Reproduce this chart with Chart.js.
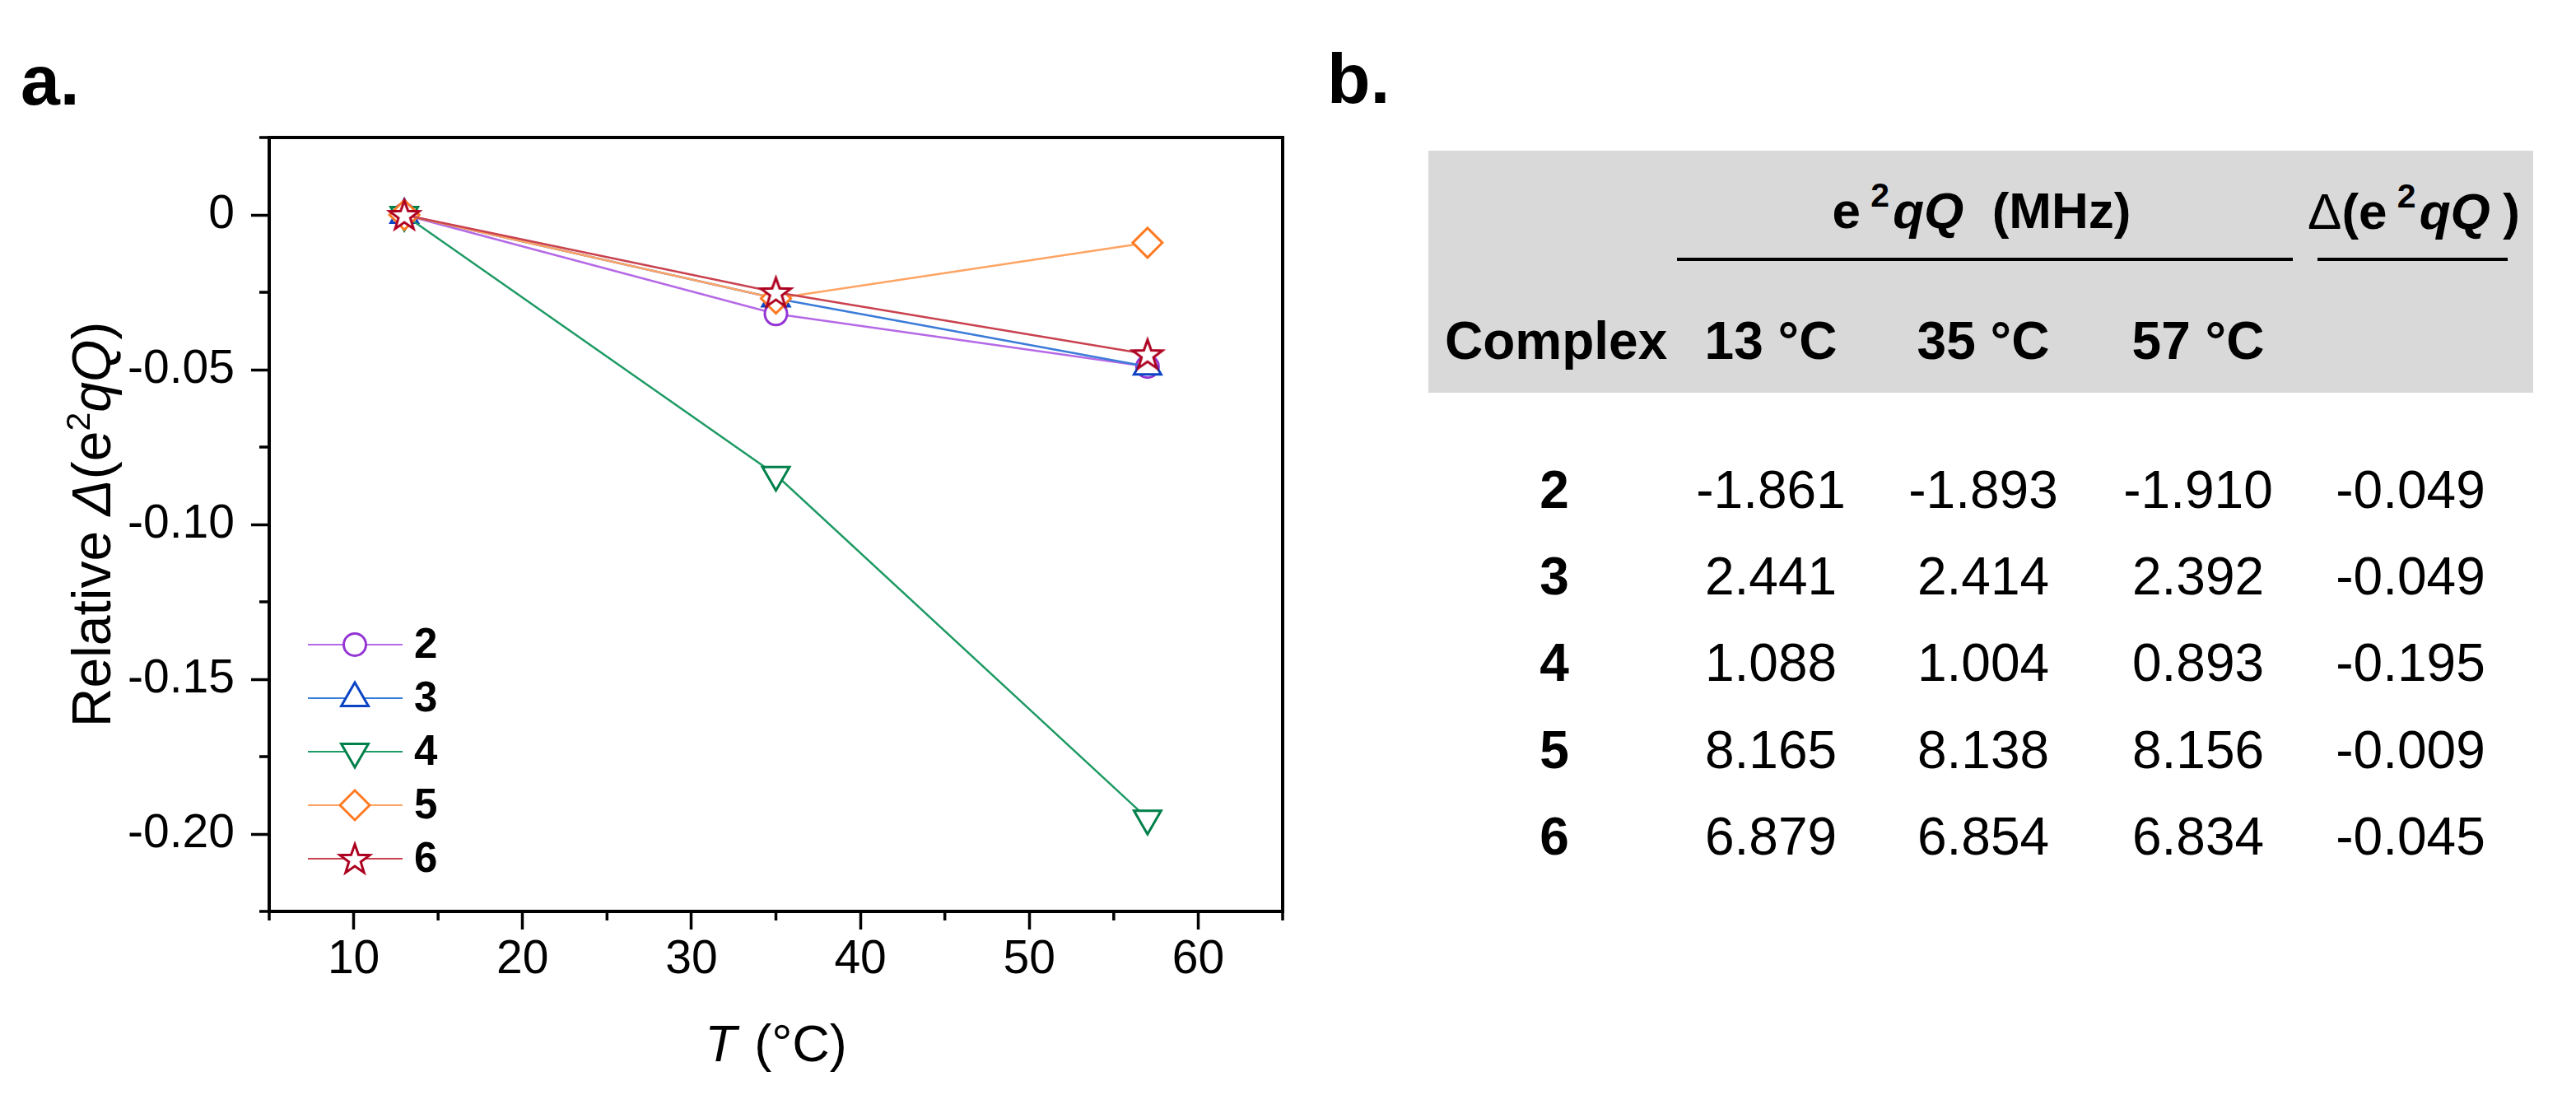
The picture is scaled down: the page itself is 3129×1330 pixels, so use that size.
<!DOCTYPE html>
<html>
<head>
<meta charset="utf-8">
<script src="https://cdn.jsdelivr.net/npm/chart.js@4.4.1/dist/chart.umd.min.js"></script>
<style>
  html, body { margin: 0; padding: 0; background: #fff; }
  body { width: 3129px; height: 1330px; position: relative; overflow: hidden;
         font-family: "Liberation Sans", Arial, sans-serif; color: #000; }
  #plot { position: absolute; left: 0; top: 0; }
  .txt { position: absolute; line-height: 1; white-space: nowrap; }
  .sup { position: relative; font-size: 0.66em; top: -0.62em; }
  .box { position: absolute; background: #d9d9d9; }
  .rule { position: absolute; background: #000; height: 4px; }
</style>
</head>
<body>
<canvas id="plot" width="1600" height="1330"></canvas>
<script>
// panel a data
const temps = [13, 35, 57];
const seriesNames = ['2', '3', '4', '5', '6'];
const rel2 = [0, -0.032, -0.049];
const rel3 = [0, -0.027, -0.049];
const rel4 = [0, -0.084, -0.195];
const rel5 = [0, -0.027, -0.009];
const rel6 = [0, -0.025, -0.045];

const xTicks = [10, 20, 30, 40, 50, 60];
const xMinor = [5, 15, 25, 35, 45, 55, 65];
const yTicks = [0, -0.05, -0.10, -0.15, -0.20];
const yTickLabels = ['0', '-0.05', '-0.10', '-0.15', '-0.20'];
const yMinor = [0.025, -0.025, -0.075, -0.125, -0.175, -0.225];

// panel b data
const complexes = ['2', '3', '4', '5', '6'];
const e2qQ13 = [-1.861, 2.441, 1.088, 8.165, 6.879];
const e2qQ35 = [-1.893, 2.414, 1.004, 8.138, 6.854];
const e2qQ57 = [-1.910, 2.392, 0.893, 8.156, 6.834];
const deltaE2qQ = [-0.049, -0.049, -0.195, -0.009, -0.045];
const tempHeaders = ['13 °C', '35 °C', '57 °C'];

const FONT = '"Liberation Sans", Arial, sans-serif';

function starImage(color){
    var s = 46, c = document.createElement('canvas');
    c.width = s; c.height = s;
    var g = c.getContext('2d');
    var ro = 19, ri = 7.6;
    g.beginPath();
    for (var k = 0; k < 10; k++){
        var r = k % 2 == 0 ? ro : ri;
        var a = -Math.PI/2 + k*Math.PI/5;
        var px = s/2 + r*Math.cos(a), py = s/2 + 1.5 + r*Math.sin(a);
        if (k == 0) g.moveTo(px, py); else g.lineTo(px, py);
    }
    g.closePath();
    g.fillStyle = '#fff';
    g.fill();
    g.lineWidth = 3;
    g.lineJoin = 'miter';
    g.strokeStyle = color;
    g.stroke();
    return c;
}

const styles = [
    {line: '#b569e6', mark: '#9435d4', point: 'circle', radius: 13.5, rot: 0},
    {line: '#3b7bd9', mark: '#0a44c4', point: 'triangle', radius: 19, rot: 0},
    {line: '#1e9a64', mark: '#00804a', point: 'triangle', radius: 19, rot: 180},
    {line: '#ffa463', mark: '#ff7a22', point: 'rectRot', radius: 18, rot: 0},
    {line: '#c9424f', mark: '#ad0020', point: starImage('#ad0020'), radius: 18, rot: 0}
];
const allSeries = [rel2, rel3, rel4, rel5, rel6];

var datasets = [];
allSeries.forEach((vals, i) => {
    var st = styles[i];
    datasets.push({
        label: seriesNames[i],
        data: temps.map((t, j) => ({x: t, y: vals[j]})),
        borderColor: st.line,
        borderWidth: 2.5,
        pointStyle: st.point,
        pointRadius: st.radius,
        pointRotation: st.rot,
        pointBorderColor: st.mark,
        pointBackgroundColor: '#fff',
        pointBorderWidth: 3,
        tension: 0,
        clip: false,
        order: allSeries.length - i
    });
});

function drawRich(ctx, segs, x, y, size){
    var total = 0;
    segs.forEach(s => {
        ctx.font = (s.style || 'normal') + ' ' + (s.sup ? size*0.62 : size) + 'px ' + FONT;
        s.w = ctx.measureText(s.t).width;
        total += s.w + (s.gap || 0);
    });
    var cx = x - total/2;
    segs.forEach(s => {
        ctx.font = (s.style || 'normal') + ' ' + (s.sup ? size*0.62 : size) + 'px ' + FONT;
        ctx.fillText(s.t, cx, s.sup ? y - size*0.38 : y);
        cx += s.w + (s.gap || 0);
    });
}

const framePlugin = {
    id: 'frame',
    afterDraw(chart){
        var ctx = chart.ctx, a = chart.chartArea;
        var xs = chart.scales.x, ys = chart.scales.y;
        ctx.save();
        ctx.strokeStyle = '#000';
        ctx.lineWidth = 4;
        ctx.beginPath();
        ctx.moveTo(a.left - 2, a.top);
        ctx.lineTo(a.right, a.top);
        ctx.lineTo(a.right, a.bottom + 2);
        ctx.stroke();

        // minor ticks
        ctx.lineWidth = 3.5;
        ctx.beginPath();
        xMinor.forEach(v => {
            var px = xs.getPixelForValue(v);
            ctx.moveTo(px, a.bottom);
            ctx.lineTo(px, a.bottom + 11);
        });
        yMinor.forEach(v => {
            var py = ys.getPixelForValue(v);
            ctx.moveTo(a.left - 12, py);
            ctx.lineTo(a.left, py);
        });
        ctx.stroke();

        // axis titles
        ctx.fillStyle = '#000';
        ctx.textBaseline = 'alphabetic';
        ctx.textAlign = 'left';
        drawRich(ctx, [
            {t: 'T', style: 'italic', gap: 4},
            {t: ' (°C)'}
        ], (a.left + a.right)/2, 1289, 63);

        ctx.save();
        ctx.translate(134, (a.top + a.bottom)/2);
        ctx.rotate(-Math.PI/2);
        drawRich(ctx, [
            {t: 'Relative '},
            {t: 'Δ', style: 'italic'},
            {t: '(e'},
            {t: '2', sup: true},
            {t: 'qQ', style: 'italic'},
            {t: ')'}
        ], 0, 0, 66);
        ctx.restore();

        // legend
        var ly0 = 783, lstep = 65;
        chart.data.datasets.forEach((ds, i) => {
            var st = styles[i];
            var ly = ly0 + i*lstep;
            ctx.strokeStyle = st.line;
            ctx.lineWidth = 2;
            ctx.beginPath();
            ctx.moveTo(374, ly);
            ctx.lineTo(489, ly);
            ctx.stroke();
            ctx.fillStyle = '#fff';
            ctx.strokeStyle = st.mark;
            ctx.lineWidth = 3;
            if (Chart.helpers && Chart.helpers.drawPoint){
                Chart.helpers.drawPoint(ctx, {pointStyle: st.point, rotation: st.rot, radius: st.radius, borderWidth: 3}, 431, ly);
            }
            ctx.fillStyle = '#000';
            ctx.font = 'bold 51px ' + FONT;
            ctx.textBaseline = 'middle';
            ctx.fillText(ds.label, 503, ly + 2);
            ctx.textBaseline = 'alphabetic';
        });
        ctx.restore();
    }
};

var ctx = document.getElementById('plot').getContext('2d');
var chart = new Chart(ctx, {
    type: 'line',
    data: {datasets: datasets},
    options: {
        responsive: false,
        devicePixelRatio: 1,
        animation: false,
        layout: {padding: {left: 0, top: 167, right: 42, bottom: 0}},
        plugins: {legend: {display: false}, tooltip: {enabled: false}, title: {display: false}},
        scales: {
            x: {
                type: 'linear',
                min: 5, max: 65,
                afterBuildTicks: s => { s.ticks = xTicks.map(v => ({value: v})); },
                afterFit: s => { s.height = 223; },
                ticks: {color: '#000', font: {family: FONT, size: 57}, padding: 3, maxRotation: 0, autoSkip: false},
                grid: {drawOnChartArea: false, tickLength: 22, tickWidth: 3.5, tickColor: '#000'},
                border: {color: '#000', width: 4}
            },
            y: {
                type: 'linear',
                min: -0.225, max: 0.025,
                afterBuildTicks: s => { s.ticks = yTicks.map(v => ({value: v})); },
                afterFit: s => { s.width = 327; },
                ticks: {
                    color: '#000', font: {family: FONT, size: 57}, padding: 20, autoSkip: false,
                    callback: (v, i) => yTickLabels[i]
                },
                grid: {drawOnChartArea: false, tickLength: 22, tickWidth: 3.5, tickColor: '#000'},
                border: {color: '#000', width: 4}
            }
        }
    },
    plugins: [framePlugin]
});

// panel labels and table (panel b)
function put(html, x, base, size, weight, align){
    var d = document.createElement('div');
    d.className = 'txt';
    d.innerHTML = html;
    d.style.fontSize = size + 'px';
    d.style.fontWeight = weight;
    d.style.top = (base - 0.8465*size) + 'px';
    d.style.left = x + 'px';
    if (align == 'center') d.style.transform = 'translateX(-50%)';
    document.body.appendChild(d);
}
function block(cls, x, y, w, h){
    var d = document.createElement('div');
    d.className = cls;
    d.style.left = x + 'px'; d.style.top = y + 'px';
    d.style.width = w + 'px';
    if (h) d.style.height = h + 'px';
    document.body.appendChild(d);
}

put('a.', 25, 127, 86, 'bold');
put('b.', 1612, 125, 86, 'bold');

block('box', 1735, 183, 1342, 294);
block('rule', 2037, 313, 748);
block('rule', 2815, 313, 231);

put('e<span class="sup" style="margin-left:0.3em;margin-right:0.1em">2</span><i>qQ</i>&nbsp;&nbsp;(MHz)', 2407, 277, 62, 'bold', 'center');
put('<span style="font-weight:normal">Δ</span>(e<span class="sup" style="margin-left:0.3em;margin-right:0.1em">2</span><i>qQ</i><span style="margin-left:0.25em">)</span>', 2803, 278, 62, 'bold');

const colCenters = [2151, 2409, 2670, 2928];
put('Complex', 1755, 436, 64, 'bold');
tempHeaders.forEach((h, i) => put(h, colCenters[i], 436, 64, 'bold', 'center'));

const rowBase = [617, 722, 827, 933, 1038];
complexes.forEach((c, i) => {
    put(c, 1888, rowBase[i], 64, 'bold', 'center');
    [e2qQ13, e2qQ35, e2qQ57, deltaE2qQ].forEach((col, j) => {
        put(col[i].toFixed(3), colCenters[j], rowBase[i], 64, 'normal', 'center');
    });
});
</script>
</body>
</html>
